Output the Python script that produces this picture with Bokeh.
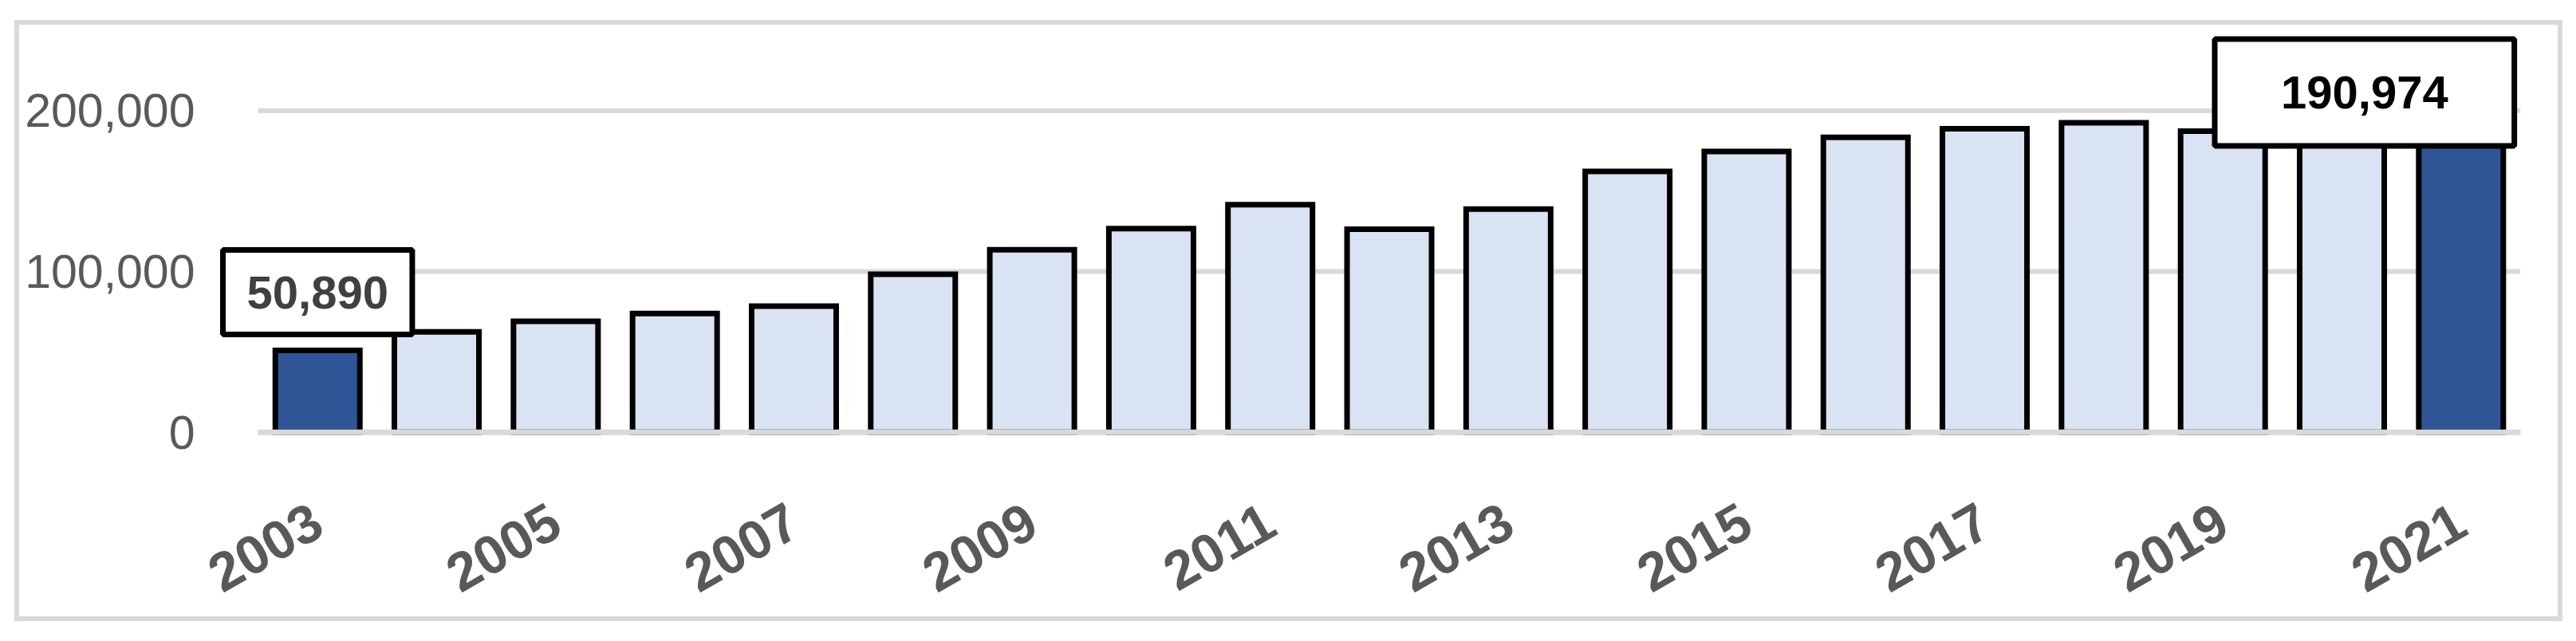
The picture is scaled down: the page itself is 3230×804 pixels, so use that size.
import math
from bokeh.plotting import figure
from bokeh.models import (ColumnDataSource, Range1d, FixedTicker, NumeralTickFormatter, Label)
from bokeh.embed import file_html
from bokeh.resources import INLINE

# ---- data ----
years = list(range(2003, 2022))
values = [50890, 62400, 69000, 73800, 78400, 98300, 113500, 126700, 141500, 126300,
          138800, 162200, 174600, 183400, 188800, 192500, 187200, 187000, 190974]
highlight = [2003, 2021]
x_tick_labels = [2003, 2005, 2007, 2009, 2011, 2013, 2015, 2017, 2019, 2021]
y_ticks = [0, 100000, 200000]

DARK = "#2F5597"
LIGHT = "#DAE3F3"
GRID = "#d9d9d9"
colors = [DARK if y in highlight else LIGHT for y in years]

src = ColumnDataSource(dict(x=years, top=values, color=colors))

# outer light-grey chart border painted by CSS behind the (transparent) canvas border area
g = "linear-gradient(#d9d9d9,#d9d9d9)"
border_bg = (f"{g} 18px 25px / 3195px 6px no-repeat, "
             f"{g} 18px 773px / 3195px 6px no-repeat, "
             f"{g} 18px 25px / 6px 754px no-repeat, "
             f"{g} 3207px 25px / 6px 754px no-repeat, white")

p = figure(width=3222, height=796, output_backend="svg", toolbar_location=None,
           x_range=Range1d(2002.158, 2021.5), y_range=Range1d(-2132, 250719),
           min_border_left=272, min_border_right=62, min_border_top=36, min_border_bottom=250)
p.styles = {"background": border_bg}
p.outline_line_color = None
p.background_fill_color = "white"
p.border_fill_color = None

# gridlines spanning the category band only
n_t = len(y_ticks)
p.segment(x0=[years[0] - 0.5] * n_t, x1=[years[-1] + 0.5] * n_t, y0=y_ticks, y1=y_ticks,
          line_color=GRID, line_width=6)

p.vbar(x="x", top="top", bottom=0, width=0.71, source=src, fill_color="color",
       line_color="black", line_width=7, line_join="miter")

# baseline drawn over the bar bottoms
p.segment(x0=[years[0] - 0.5], x1=[years[-1] + 0.5], y0=[y_ticks[0]], y1=[y_ticks[0]],
          line_color=GRID, line_width=7)

p.xgrid.visible = False
p.ygrid.visible = False

# y axis
p.yaxis.ticker = FixedTicker(ticks=y_ticks)
p.yaxis.formatter = NumeralTickFormatter(format="0,0")
p.yaxis.axis_line_color = None
p.yaxis.major_tick_line_color = None
p.yaxis.minor_tick_line_color = None
p.yaxis.major_label_text_font = "Liberation Sans"
p.yaxis.major_label_text_font_size = "59px"
p.yaxis.major_label_text_color = "#595959"
p.yaxis.major_label_standoff = 22

# x axis
p.xaxis.ticker = FixedTicker(ticks=x_tick_labels)
p.xaxis.axis_line_color = None
p.xaxis.major_tick_line_color = None
p.xaxis.minor_tick_line_color = None
p.xaxis.major_label_text_font = "Liberation Sans"
p.xaxis.major_label_text_font_style = "bold"
p.xaxis.major_label_text_font_size = "68px"
p.xaxis.major_label_text_color = "#595959"
p.xaxis.major_label_orientation = math.pi / 6
p.xaxis.major_label_standoff = 96

# value call-outs
first_i, last_i = 0, len(years) - 1
p.add_layout(Label(x=years[first_i], y=values[first_i], text=f"{values[first_i]:,}",
                   text_align="center", text_baseline="middle", y_offset=73,
                   text_font="Liberation Sans", text_font_style="bold", text_font_size="58px",
                   text_color="#404040", background_fill_color="white",
                   border_line_color="black", border_line_width=7,
                   padding=dict(left=30, right=30, top=33, bottom=33)))
p.add_layout(Label(x=years[last_i], y=values[last_i], text=f"{values[last_i]:,}",
                   text_align="center", text_baseline="middle", x_offset=-121, y_offset=41,
                   text_font="Liberation Sans", text_font_style="bold", text_font_size="58px",
                   text_color="black", background_fill_color="white",
                   border_line_color="black", border_line_width=7,
                   padding=dict(left=83, right=83, top=47, bottom=47)))

open("out.html", "w").write(file_html(p, INLINE))
